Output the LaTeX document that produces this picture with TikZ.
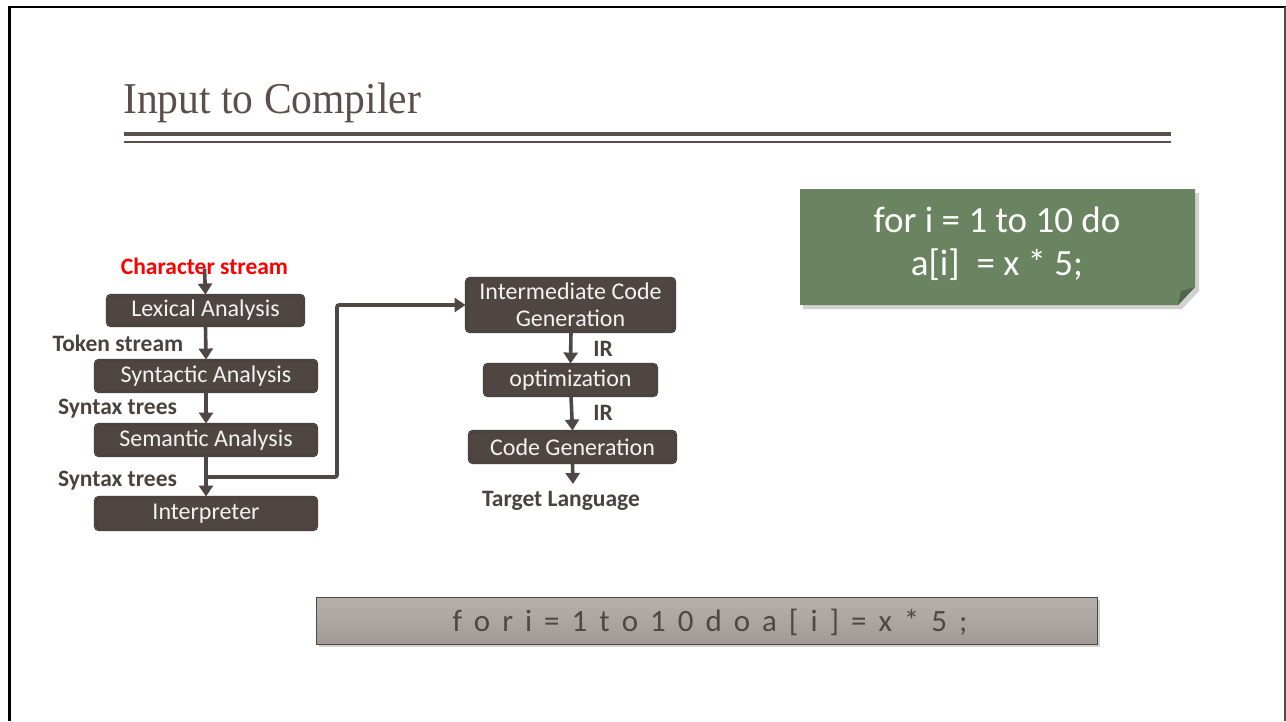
\documentclass[tikz,border=0pt]{standalone}
\usepackage{fontspec}
\setmainfont{Carlito}
\newfontfamily\titlefont{Liberation Serif}
\usetikzlibrary{arrows.meta,shadows,calc}
\definecolor{boxfill}{HTML}{4F4642}
\definecolor{boxedge}{HTML}{38312E}
\definecolor{boxinner}{HTML}{6E6560}
\definecolor{linec}{HTML}{4F4743}
\definecolor{titlec}{HTML}{5A4F4A}
\definecolor{notegreen}{HTML}{6A8360}
\definecolor{notefold}{HTML}{506648}
\definecolor{bartop}{HTML}{B6B0AD}
\definecolor{barbot}{HTML}{A29A97}
\definecolor{labelc}{HTML}{4A423E}
\begin{document}
\begin{tikzpicture}[x=1pt,y=-1pt,
  stagebox/.style={draw=boxedge, double=boxinner, double distance=0.6pt, line width=0.9pt,
    fill=boxfill, rounded corners=4pt, text=white!90!gray, inner sep=0pt,
    font=\fontsize{24}{27}\selectfont, align=center},
  lbl/.style={text=labelc, font=\fontsize{23.5}{26}\selectfont\bfseries, inner sep=1pt},
  arr/.style={draw=linec, line width=3.6pt, -{Triangle[width=14pt,length=11pt]}},
]
\useasboundingbox (0,0) rectangle (1286,721);
% slide frame
\draw[line width=2.5pt, black] (8,7) -- (1286,7);
\draw[line width=3pt, black] (9.5,6) -- (9.5,721);
\draw[line width=1.5pt, black!70] (1285,7) -- (1285,721);

% title
\node[anchor=base west, inner sep=0pt, text=titlec, font=\titlefont\fontsize{44}{48}\selectfont] (title) at (123,113) {\scalebox{0.945}[1]{Input to Compiler}};
\draw[line width=4pt, titlec] (124,134) -- (1171,134);
\draw[line width=1.2pt, titlec] (124,142) -- (1171,142);

% left pipeline
\node[text=red, font=\fontsize{23.5}{26}\selectfont\bfseries, inner sep=1pt] (cs) at (204.5,266) {Character stream};
\node[stagebox, minimum width=197pt, minimum height=31pt] (lex) at (205.5,310.5) {Lexical Analysis};
\node[stagebox, minimum width=222pt, minimum height=32pt] (syn) at (206,376) {Syntactic Analysis};
\node[stagebox, minimum width=222pt, minimum height=32pt] (sem) at (206,440) {Semantic Analysis};
\node[stagebox, minimum width=222pt, minimum height=33pt] (int) at (206,513.5) {Interpreter};

\node[lbl] (tok) at (118,343) {Token stream};
\node[lbl] (st1) at (117.5,409) {Syntax trees};
\node[lbl] (st2) at (117.5,481) {Syntax trees};

\draw[arr] ([yshift=-3pt]cs.center) -- (lex.north);
\draw[arr] (lex.south) -- (syn.north);
\draw[arr] (syn.south) -- (sem.north);
\draw[arr] (sem.south) -- (int.north);

% middle pipeline
\node[stagebox, minimum width=209pt, minimum height=54pt, font=\fontsize{24}{27}\selectfont] (icg) at (570.5,305) {Intermediate Code\\Generation};
\node[stagebox, minimum width=173pt, minimum height=32pt] (opt) at (570.5,380) {optimization};
\node[stagebox, minimum width=207pt, minimum height=32pt] (cg) at (572.5,447) {Code Generation};
\node[lbl] (ir1) at (603,349) {IR};
\node[lbl] (ir2) at (603,413) {IR};
\node[lbl] (tl) at (561,501) {Target Language};
\coordinate (tlt) at (573,484);

\draw[arr] (571,332) -- (opt.north);
\draw[arr] (571,396) -- (cg.north);
\draw[arr] (cg.south) -- (tlt);

% branch from semantic analysis to intermediate code generation
\coordinate (br) at (206,477);
\coordinate (bend) at (337,477);
\draw[arr, rounded corners=2pt] (br) -- (bend) |- (icg.west);

% green note
\fill[black, opacity=0.18] (803,193) -- (1199,193) -- (1199,291) -- (1182,309) -- (803,309) -- cycle;
\fill[notegreen] (800,189) -- (1195,189) -- (1195,287) -- (1178,305) -- (800,305) -- cycle;
\fill[notefold] (1195,287) -- (1181,291) -- (1178,305) -- cycle;
\node[text=white, font=\fontsize{37}{43}\selectfont, align=center, inner sep=0pt] (note) at (997,244) {for i = 1 to 10 do\\a[i]\ \ = x * 5;};

% gray bar
\fill[black, opacity=0.18] (319,600) rectangle (1100,647);
\shade[top color=bartop, bottom color=barbot] (316,597) rectangle (1097,644);
\draw[line width=1pt, linec] (316,597) rectangle (1097,644);
\node[text=linec, font=\fontsize{31}{34}\selectfont, inner sep=0pt] (code) at (710,622) {\spaceskip=12pt f o r i = 1 t o 1 0 d o a [ i ] = x * 5 ;};
\end{tikzpicture}
\end{document}
